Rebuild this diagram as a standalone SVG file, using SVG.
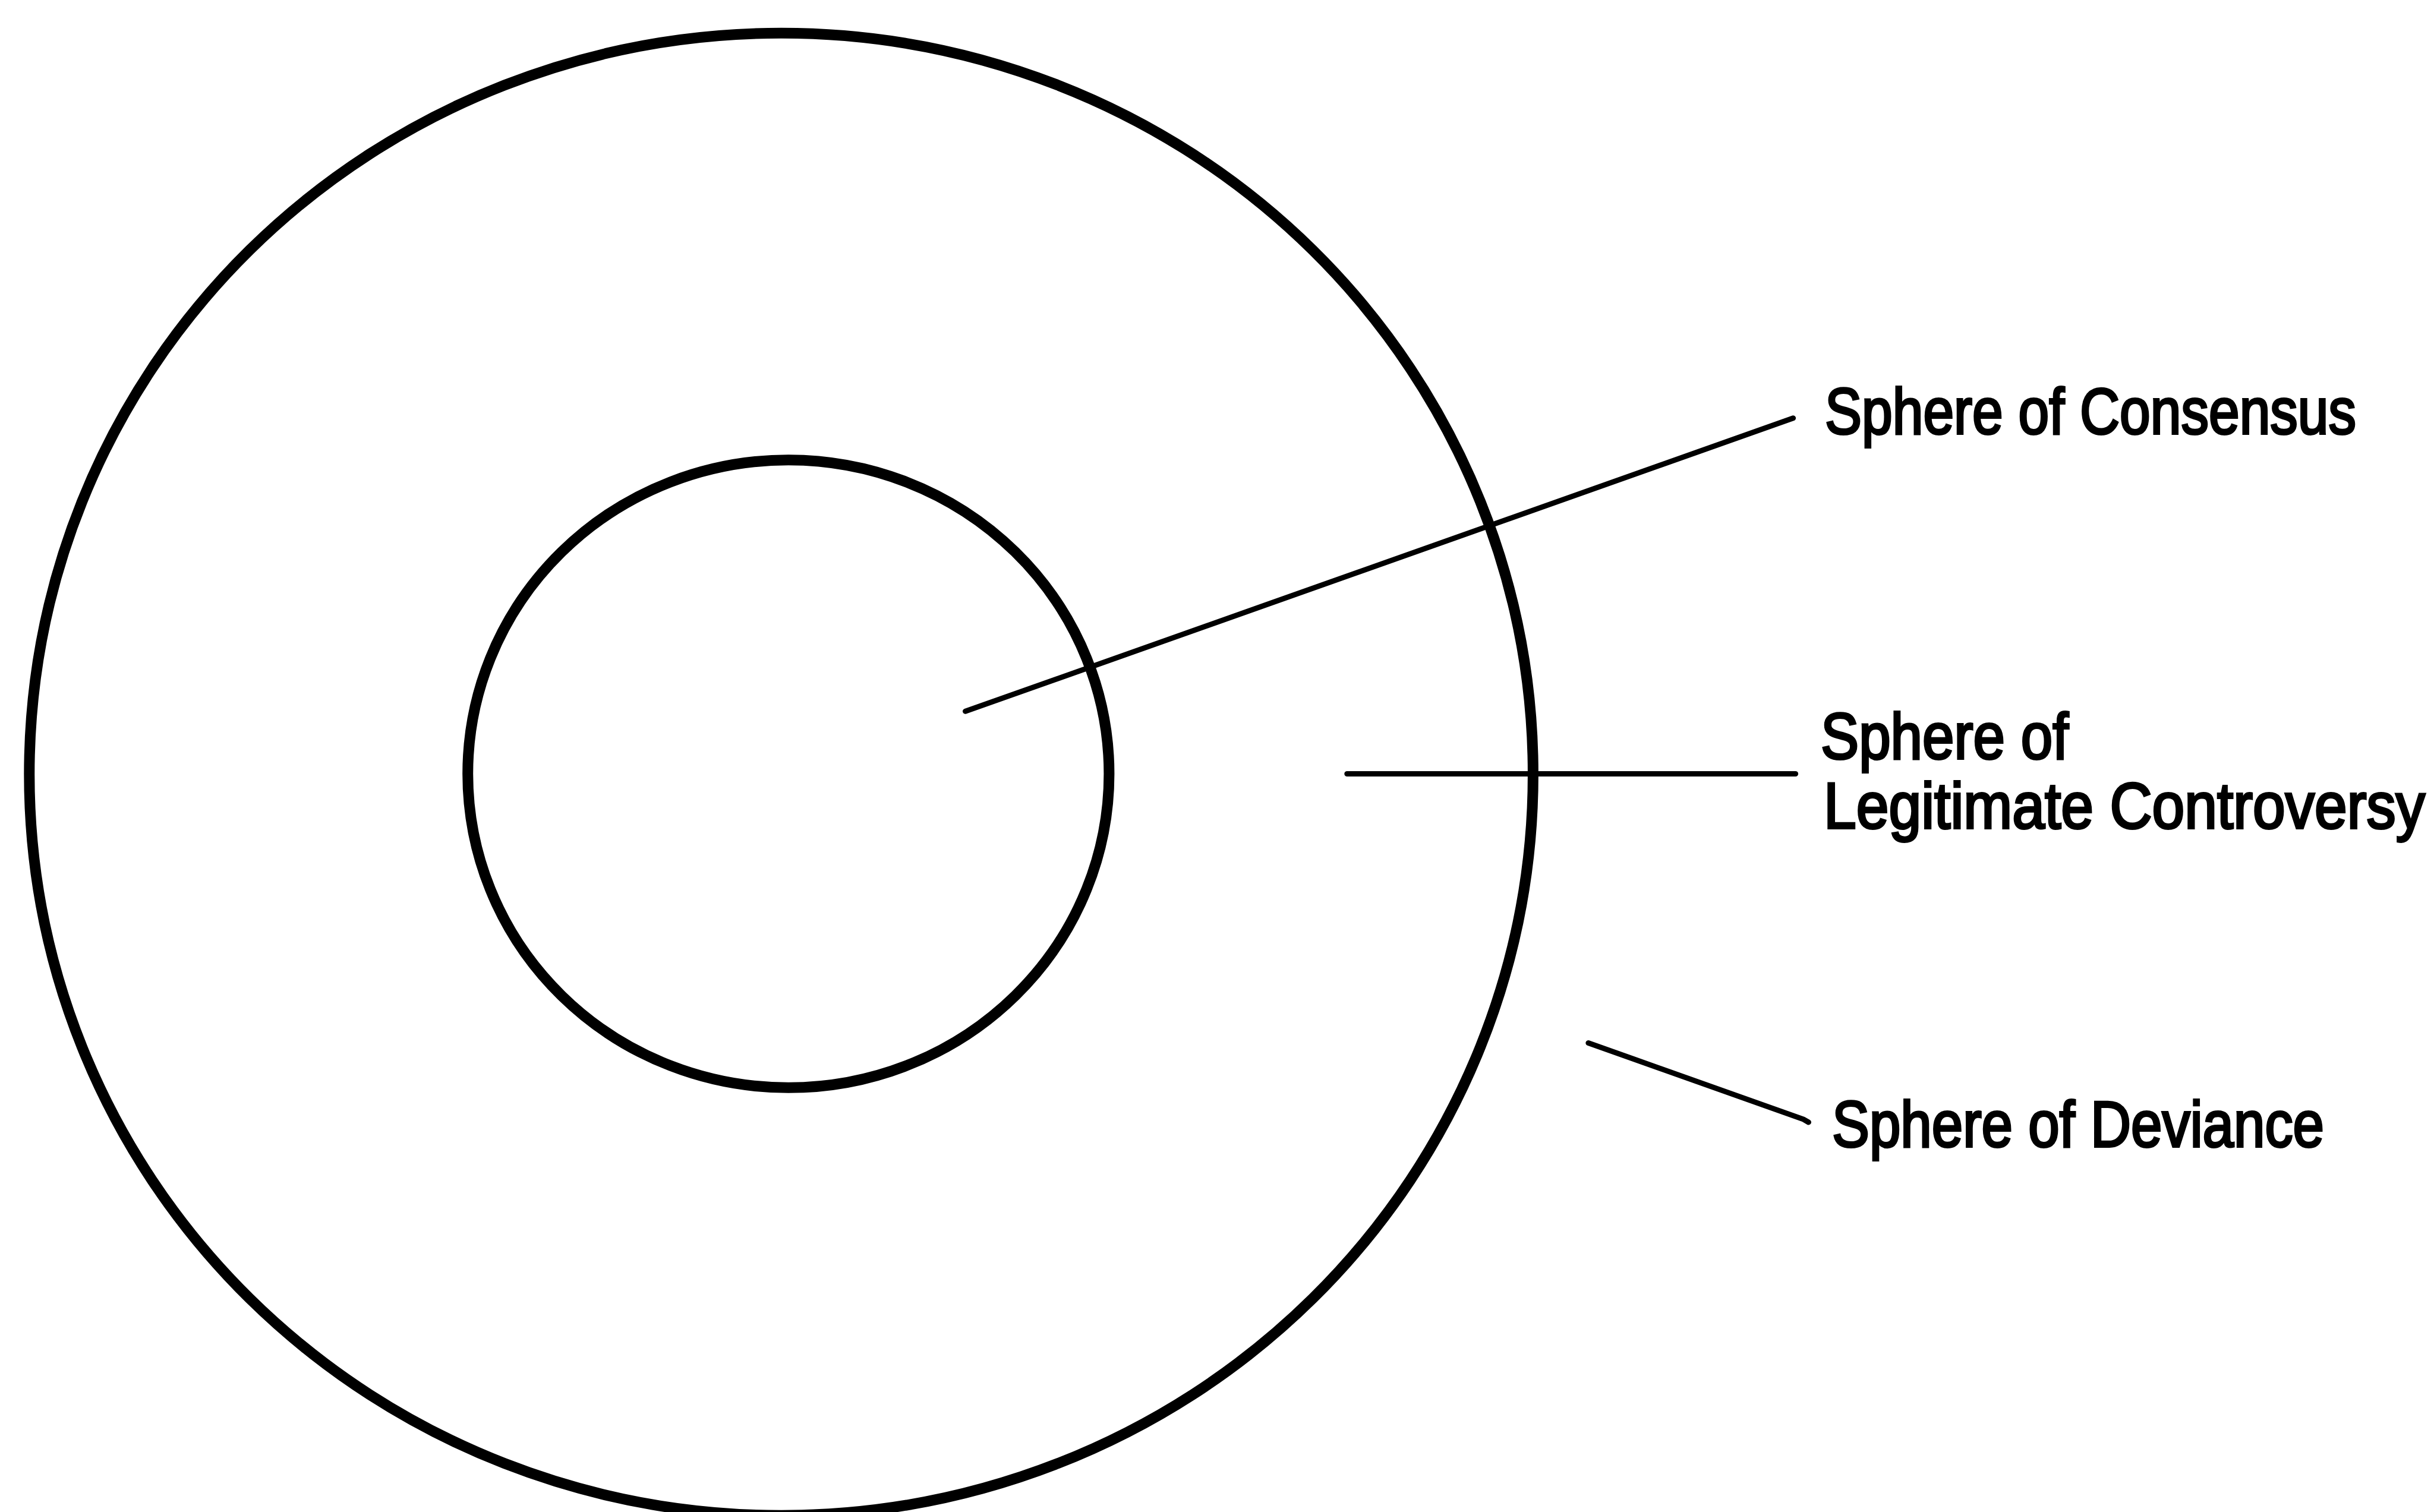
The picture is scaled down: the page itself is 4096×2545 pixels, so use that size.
<svg xmlns="http://www.w3.org/2000/svg" width="4096" height="2545" viewBox="0 0 4096 2545">
<style>
.ring{fill:none;stroke:#000;stroke-width:18}
.lead{fill:none;stroke:#000;stroke-width:9;stroke-linecap:round}
.lbl{font-family:"Liberation Sans",Arial,sans-serif;font-size:110px;font-weight:normal;fill:#000;stroke:#000;stroke-width:4}
</style>
<rect x="0" y="0" width="4096" height="2545" fill="#fff"/>
<g id="sphere-deviance">
<ellipse class="ring" cx="1314.6" cy="1303.3" rx="1265.3" ry="1247.5"/>
</g>
<g id="sphere-consensus">
<ellipse class="ring" cx="1326.8" cy="1302.5" rx="539.6" ry="528.3"/>
</g>
<g id="connectors">
<line class="lead" x1="1624.5" y1="1197.3" x2="3017.6" y2="703.8"/>
<line class="lead" x1="2266.8" y1="1302.5" x2="3021.6" y2="1302.5"/>
<path class="lead" d="M2672.9,1755.5 L3035,1884 L3043.5,1889"/>
</g>
<g id="labels">
<text class="lbl" x="3071" y="729.7" textLength="894" lengthAdjust="spacingAndGlyphs">Sphere of Consensus</text>
<text class="lbl" x="3064" y="1276.6" textLength="417" lengthAdjust="spacingAndGlyphs">Sphere of</text>
<text class="lbl" x="3069" y="1394" textLength="1012" lengthAdjust="spacingAndGlyphs">Legitimate Controversy</text>
<text class="lbl" x="3083" y="1929.5" textLength="828" lengthAdjust="spacingAndGlyphs">Sphere of Deviance</text>
</g>
</svg>
